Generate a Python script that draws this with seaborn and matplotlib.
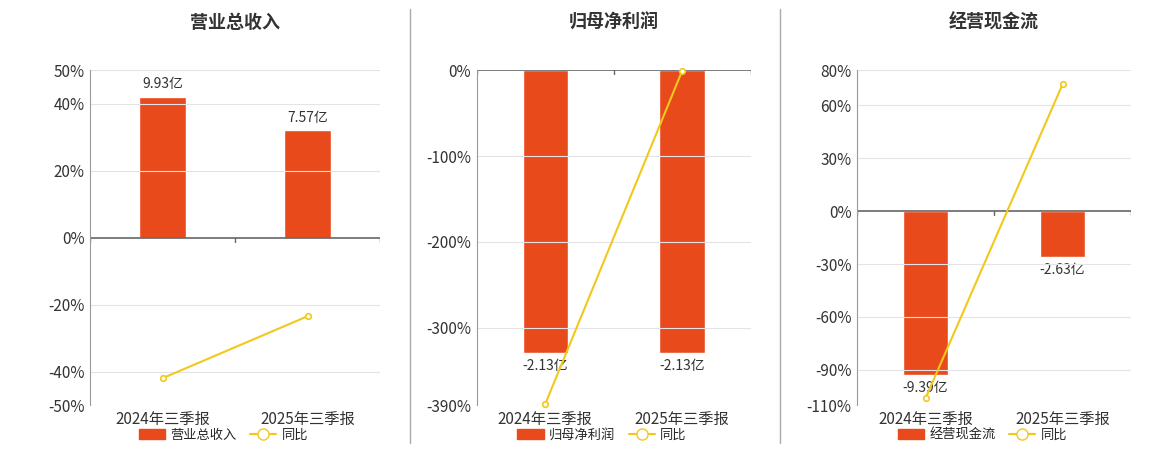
import numpy as np
import pandas as pd
import matplotlib
matplotlib.use('Agg')
import matplotlib.pyplot as plt
import seaborn as sns
from matplotlib.lines import Line2D
from matplotlib.patches import Patch

sns.set_style('white')
plt.rcParams['font.family'] = ['Noto Sans CJK SC', 'DejaVu Sans']

periods = ['2024年三季报', '2025年三季报']
titles = ['营业总收入', '归母净利润', '经营现金流']
bar_values = [[9.93, 7.57], [-2.13, -2.13], [-9.39, -2.63]]
yoy_values = [[-42.0, -23.5], [-389.0, -1.0], [-106.0, 72.0]]
pct_ticks = [[50, 40, 20, 0, -20, -40, -50],
             [0, -100, -200, -300, -390],
             [80, 60, 30, 0, -30, -60, -90, -110]]
# where the first bar top sits on the percent axis
bar_anchor_pct = [42.0, -330.0, -93.0]

BAR = '#E84A1B'
LINE = '#F2C81B'
GRID = '#E3E3E8'

fig = plt.figure(figsize=(11.6, 4.5), dpi=100)
boxes = [(0.0776, 0.25), (0.411, 0.236), (0.739, 0.236)]

for i in range(3):
    left, width = boxes[i]
    ax = fig.add_axes([left, 0.1, width, 0.744])
    lo, hi = min(pct_ticks[i]), max(pct_ticks[i])
    k = bar_values[i][0] / bar_anchor_pct[i]
    df = pd.DataFrame({'period': periods, 'value': bar_values[i]})
    sns.barplot(data=df, x='period', y='value', color=BAR, width=0.33,
                saturation=1, ax=ax)
    ax.set_ylim(lo * k, hi * k)
    ax.set_xlim(-0.5, 1.5)
    ax.set_yticks([])
    ax.set_xlabel('')
    ax.set_ylabel('')
    ax.tick_params(axis='x', length=0, labelsize=11, colors='#333333', pad=4)
    for s in ax.spines.values():
        s.set_visible(False)
    for j, v in enumerate(bar_values[i]):
        ax.annotate(f'{v:.2f}亿', (j, v), xytext=(0, 4 if v > 0 else -4),
                    textcoords='offset points', ha='center',
                    va='bottom' if v > 0 else 'top', fontsize=10, color='#333333')

    ax2 = ax.twinx()
    ax2.set_ylim(lo, hi)
    ax2.set_yticks(pct_ticks[i])
    ax2.set_yticklabels([f'{t}%' for t in pct_ticks[i]])
    ax2.yaxis.tick_left()
    ax2.tick_params(axis='y', length=0, labelsize=11, colors='#333333', pad=4)
    for t in pct_ticks[i]:
        if t != 0:
            ax2.axhline(t, color=GRID, lw=0.8, zorder=0)
    for s in ['top', 'right', 'bottom']:
        ax2.spines[s].set_visible(False)
    ax2.spines['left'].set_color('#999999')
    ax2.axhline(0, color='#666666', lw=1.2)
    tick_len = (hi - lo) * 0.012
    for x in [-0.5, 0.5, 1.5]:
        ax2.plot([x, x], [0, -tick_len], color='#666666', lw=1)
    ax2.plot([0, 1], yoy_values[i], color=LINE, lw=1.5, marker='o', ms=4,
             mfc='white', mec=LINE, mew=1.2, zorder=5, clip_on=False)
    ax2.set_xlim(-0.5, 1.5)

    fig.text(left + width / 2, 0.95, titles[i], ha='center', va='center',
             fontsize=13, fontweight='bold', color='#333333')
    handles = [Patch(color=BAR, label=titles[i]),
               Line2D([0], [0], color=LINE, marker='o', mfc='white', ms=8,
                      lw=1.5, label='同比')]
    fig.legend(handles=handles, loc='center', ncol=2, frameon=False,
               fontsize=9.5, bbox_to_anchor=(left + width / 2 - 0.01, 0.033),
               handlelength=2, columnspacing=1, handletextpad=0.4)

for x in [410 / 1160, 780 / 1160]:
    fig.add_artist(Line2D([x, x], [0.015, 0.98], color='#AAAAAA', lw=1))

fig.savefig('out.png', dpi=100)
